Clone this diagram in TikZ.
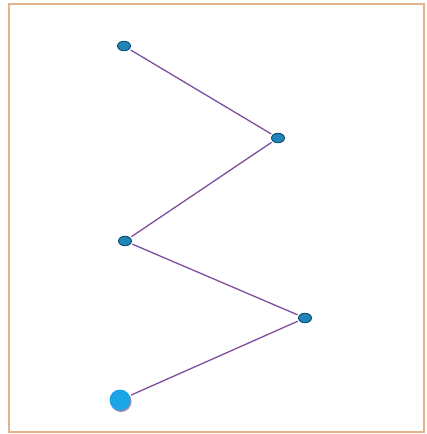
\documentclass[tikz,border=0pt]{standalone}
\usetikzlibrary{shapes.geometric}
\definecolor{frameC}{HTML}{E2B48C}
\definecolor{lineC}{HTML}{7E4FA0}
\definecolor{dotC}{HTML}{1F84B6}
\definecolor{dotE}{HTML}{0E4C78}
\definecolor{bigC}{HTML}{1AA6E6}
\definecolor{shadC}{HTML}{9A8AB0}
\tikzset{
  dot/.style={ellipse, fill=dotC, draw=dotE, line width=0.9pt, minimum width=13pt, minimum height=9.5pt, inner sep=0pt},
  bigdot/.style={circle, fill=bigC, minimum size=21pt, inner sep=0pt},
  link/.style={draw=lineC, line width=1.3pt, shorten <=1.5pt, shorten >=1.5pt}
}
\begin{document}
\begin{tikzpicture}[x=1pt,y=-1pt]
\useasboundingbox (0,0) rectangle (427,434);
\fill[white] (0,0) rectangle (427,434);
\draw[frameC, line width=2.2pt] (9,4) rectangle (424,432);
\node[dot] (a) at (124,46) {};
\node[dot] (b) at (278,138) {};
\node[dot] (c) at (125,241) {};
\node[dot] (d) at (305,318) {};
\fill[shadC] (121,401.5) circle (10.5pt);
\node[bigdot] (e) at (120,400) {};
\draw[link] (a) -- (b);
\draw[link] (b) -- (c);
\draw[link] (c) -- (d);
\draw[link] (d) -- (e);
\end{tikzpicture}
\end{document}
